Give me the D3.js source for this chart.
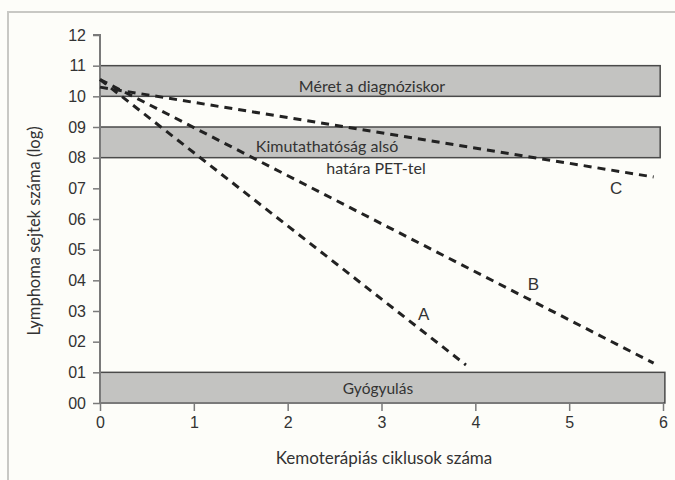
<!DOCTYPE html>
<html>
<head>
<meta charset="utf-8">
<script src="https://cdn.jsdelivr.net/npm/d3@7"></script>
<style>
  html, body { margin: 0; padding: 0; background: #fdfdf9; }
  svg { display: block; }
</style>
</head>
<body>
<svg id="chart" width="675" height="480"></svg>
<script>
// Cycle counts (x) and log cell counts (y) for the three response curves
const seriesNames = ["A", "B", "C"];
const startCycle = [0, 0, 0];
const startLog = [10.55, 10.55, 10.3];
const endCycle = [3.9, 5.9, 5.9];
const endLog = [1.24, 1.3, 7.37];

// Reference bands: lower and upper log level, right end in cycles
const bandLow = [10, 8, 0];
const bandHigh = [11, 9, 1];
const bandEnd = [5.97, 5.97, 6.02];

const xTicks = [0, 1, 2, 3, 4, 5, 6];
const yTicks = [0, 1, 2, 3, 4, 5, 6, 7, 8, 9, 10, 11, 12];

const svg = d3.select("#chart");

// outer frame
svg.append("rect")
  .attr("x", 8).attr("y", 12)
  .attr("width", 675).attr("height", 480)
  .attr("fill", "#fdfdf9")
  .attr("stroke", "#c8c8c4").attr("stroke-width", 2);

const x = d3.scaleLinear().domain([0, 6]).range([100, 663]);
const y = d3.scaleLinear().domain([0, 12]).range([403, 35]);

// bands
const bands = svg.append("g");
bandLow.forEach((lo, i) => {
  bands.append("rect")
    .attr("x", x(0)).attr("y", y(bandHigh[i]))
    .attr("width", x(bandEnd[i]) - x(0))
    .attr("height", y(lo) - y(bandHigh[i]))
    .attr("fill", "#c3c3c1")
    .attr("stroke", "#4a4a4a").attr("stroke-width", 1.5);
});

// axes
const yAxis = d3.axisLeft(y).tickValues(yTicks).tickFormat(d3.format("02d")).tickSize(7).tickPadding(7);
const xAxis = d3.axisBottom(x).tickValues(xTicks).tickFormat(d3.format("d")).tickSize(8).tickPadding(6);

const gy = svg.append("g").attr("transform", `translate(${x(0)},0)`).call(yAxis);
const gx = svg.append("g").attr("transform", `translate(0,${y(0)})`).call(xAxis);
[gx, gy].forEach(g => {
  g.select(".domain").attr("stroke", "#7a7a7a").attr("stroke-width", 2);
  g.selectAll(".tick line").attr("stroke", "#7a7a7a").attr("stroke-width", 1.5);
  g.selectAll(".tick text")
    .attr("fill", "#333")
    .style("font-family", "'Liberation Sans', Arial, sans-serif")
    .style("font-size", "16px");
});
gy.select(".domain").attr("d", `M-7,${y(12)}H0V${y(0)}`);
gx.select(".domain").attr("d", `M${x(0)},0H${x(6)}`);

// band labels
const labelFont = "Lato, 'Open Sans', sans-serif";
const bandText = [
  { t: "Méret a diagnóziskor", cx: 372, cy: 85, s: 16 },
  { t: "Kimutathatóság alsó", cx: 327, cy: 145, s: 16 },
  { t: "határa PET-tel", cx: 376, cy: 167, s: 16 },
  { t: "Gyógyulás", cx: 378, cy: 388, s: 15.5 }
];
svg.append("g").selectAll("text").data(bandText).join("text")
  .attr("x", d => d.cx).attr("y", d => d.cy)
  .attr("text-anchor", "middle").attr("dominant-baseline", "central")
  .attr("fill", "#333")
  .style("font-family", labelFont).style("font-size", d => d.s + "px")
  .text(d => d.t);

// response curves
const line = d3.line().x(d => x(d[0])).y(d => y(d[1]));
seriesNames.forEach((name, i) => {
  svg.append("path")
    .attr("d", line([[startCycle[i], startLog[i]], [endCycle[i], endLog[i]]]))
    .attr("fill", "none")
    .attr("stroke", "#222")
    .attr("stroke-width", 3)
    .attr("stroke-dasharray", "8,6");
});

// curve letters
const letterPos = [[3.45, 2.9], [4.62, 3.88], [5.5, 7.0]];
svg.append("g").selectAll("text").data(seriesNames).join("text")
  .attr("x", (d, i) => x(letterPos[i][0]))
  .attr("y", (d, i) => y(letterPos[i][1]))
  .attr("text-anchor", "middle").attr("dominant-baseline", "central")
  .attr("fill", "#333")
  .style("font-family", "'Liberation Sans', Arial, sans-serif")
  .style("font-size", "17px")
  .text(d => d);

// axis titles
svg.append("text")
  .attr("x", 384).attr("y", 457)
  .attr("text-anchor", "middle").attr("dominant-baseline", "central")
  .attr("fill", "#333")
  .style("font-family", labelFont).style("font-size", "17px")
  .text("Kemoterápiás ciklusok száma");

svg.append("text")
  .attr("transform", "translate(34,231) rotate(-90)")
  .attr("text-anchor", "middle").attr("dominant-baseline", "central")
  .attr("fill", "#333")
  .style("font-family", labelFont).style("font-size", "16.5px")
  .text("Lymphoma sejtek száma (log)");
</script>
</body>
</html>
